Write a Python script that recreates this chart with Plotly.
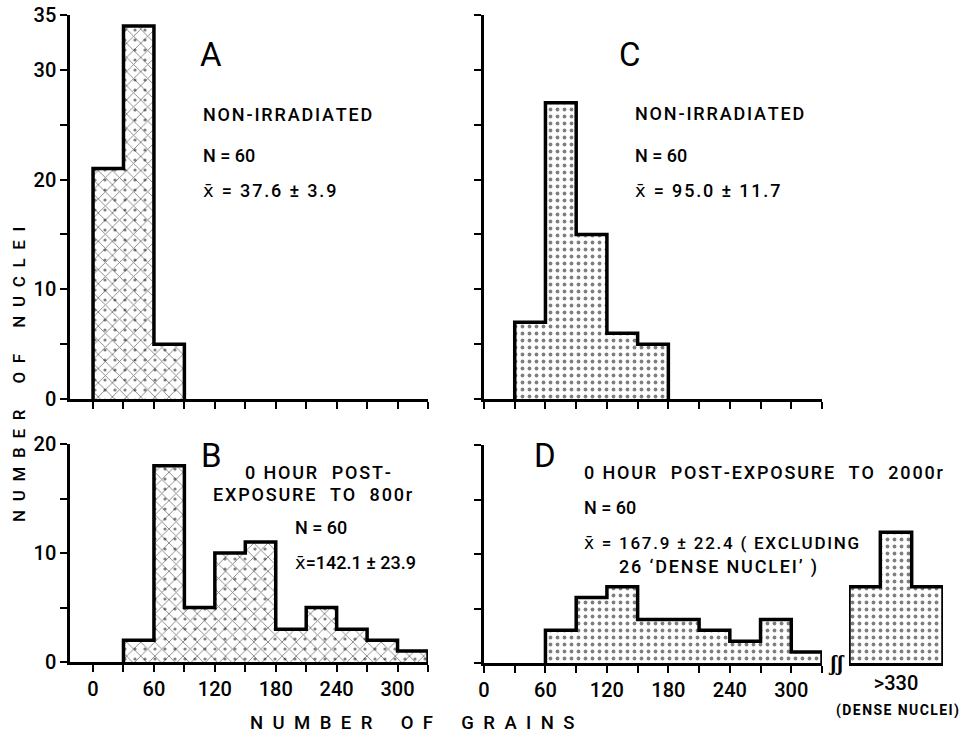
import plotly.graph_objects as go

# ---------------- data ----------------
bin_width = 30
a_edges = [0, 30, 60]
a_counts = [21, 34, 5]
b_edges = [30, 60, 90, 120, 150, 180, 210, 240, 270, 300]
b_counts = [2, 18, 5, 10, 11, 3, 5, 3, 2, 1]
c_edges = [30, 60, 90, 120, 150]
c_counts = [7, 27, 15, 6, 5]
d_edges = [60, 90, 120, 150, 180, 210, 240, 270, 300]
d_counts = [3, 6, 7, 4, 4, 3, 2, 4, 1]
dense_edges = [0, 1, 2]
dense_counts = [7, 12, 7]

x_ticks = list(range(0, 331, 30))
x_ticklabels = [str(v) if v % 60 == 0 and v <= 300 else "" for v in x_ticks]
y_top_ticks = list(range(0, 36, 5))
y_top_labels = ["0", "", "10", "", "20", "", "30", "35"]
y_bot_ticks = list(range(0, 21, 5))
y_bot_labels = ["0", "", "10", "", "20"]

W, H = 966, 735
FONT = "Roboto"
WEIGHT = 500


def px_x(p):
    return p / W


def px_y(p):
    return 1 - p / H


def outline(edges, counts, w):
    xs, ys = [edges[0]], [0]
    for e, c in zip(edges, counts):
        xs += [e, e + w]
        ys += [c, c]
    xs.append(edges[-1] + w)
    ys.append(0)
    return xs, ys


fig = go.Figure()


def add_hist(edges, counts, w, xa, ya, crosshatch):
    centers = [e + w / 2 for e in edges]
    if crosshatch:
        fig.add_trace(go.Bar(x=centers, y=counts, width=w, xaxis=xa, yaxis=ya,
                             marker=dict(color="white", line=dict(width=0),
                                         pattern=dict(shape="x", size=10, solidity=0.17,
                                                      fgcolor="black", bgcolor="white")),
                             hoverinfo="skip", showlegend=False))
        fig.add_trace(go.Bar(x=centers, y=counts, width=w, xaxis=xa, yaxis=ya,
                             marker=dict(color="rgba(0,0,0,0)", line=dict(width=0),
                                         pattern=dict(shape=".", size=10, solidity=0.08,
                                                      fgcolor="black", bgcolor="rgba(0,0,0,0)")),
                             hoverinfo="skip", showlegend=False))
    else:
        fig.add_trace(go.Bar(x=centers, y=counts, width=w, xaxis=xa, yaxis=ya,
                             marker=dict(color="white", line=dict(width=0),
                                         pattern=dict(shape=".", size=7, solidity=0.24,
                                                      fgcolor="black", bgcolor="white")),
                             hoverinfo="skip", showlegend=False))
    xs, ys = outline(edges, counts, w)
    fig.add_trace(go.Scatter(x=xs, y=ys, mode="lines", xaxis=xa, yaxis=ya,
                             line=dict(color="black", width=3.5),
                             hoverinfo="skip", showlegend=False))


add_hist(a_edges, a_counts, bin_width, "x", "y", True)
add_hist(b_edges, b_counts, bin_width, "x2", "y2", True)
add_hist(c_edges, c_counts, bin_width, "x3", "y3", False)
add_hist(d_edges, d_counts, bin_width, "x4", "y4", False)
add_hist(dense_edges, dense_counts, 1, "x5", "y4", False)

tickfont = dict(family=FONT, size=20, color="black", weight=WEIGHT)
common_x = dict(showgrid=False, zeroline=False, showline=True, linecolor="black",
                linewidth=3, ticks="outside", ticklen=7, tickwidth=2, tickcolor="black",
                tickvals=x_ticks, tickfont=tickfont, fixedrange=True, automargin=False)
common_y = dict(showgrid=False, zeroline=False, showline=True, linecolor="black",
                linewidth=2.5, ticks="outside", ticklen=7, tickwidth=2, tickcolor="black",
                tickfont=tickfont, fixedrange=True, automargin=False)

left_dom = [px_x(70), px_x(428)]
right_dom = [px_x(484), px_x(822)]
top_dom = [px_y(399), px_y(15)]
bl_dom = [px_y(662), px_y(444)]
br_dom = [px_y(663), px_y(445)]
left_range = [-22.7, 330]

fig.update_layout(
    width=W, height=H, margin=dict(l=0, r=0, t=0, b=0, pad=0, autoexpand=False),
    paper_bgcolor="white", plot_bgcolor="rgba(0,0,0,0)",
    barmode="overlay", bargap=0,
    font=dict(family=FONT, color="black"),
    xaxis=dict(common_x, domain=left_dom, anchor="y", range=left_range, showticklabels=False),
    yaxis=dict(common_y, domain=top_dom, anchor="x", range=[0, 35],
               tickvals=y_top_ticks, ticktext=y_top_labels),
    xaxis2=dict(common_x, domain=left_dom, anchor="y2", range=left_range,
                ticktext=x_ticklabels),
    yaxis2=dict(common_y, domain=bl_dom, anchor="x2", range=[0, 20],
                tickvals=y_bot_ticks, ticktext=y_bot_labels),
    xaxis3=dict(common_x, domain=right_dom, anchor="y3", range=[0, 330], showticklabels=False),
    yaxis3=dict(common_y, domain=top_dom, anchor="x3", range=[0, 35],
                tickvals=y_top_ticks, showticklabels=False),
    xaxis4=dict(common_x, domain=right_dom, anchor="y4", range=[0, 330],
                ticktext=x_ticklabels),
    yaxis4=dict(common_y, domain=br_dom, anchor="x4", range=[0, 20],
                tickvals=y_bot_ticks, showticklabels=False),
    xaxis5=dict(showgrid=False, zeroline=False, showline=True, linecolor="black",
                linewidth=3, ticks="", domain=[px_x(849), px_x(943)], anchor="y4",
                range=[0, 3], tickvals=[1.5], ticktext=[">330"], tickfont=tickfont,
                fixedrange=True, automargin=False),
)

ann = []


def txt(text, x, y, size=18, xanchor="left", weight=WEIGHT, textangle=0):
    ann.append(dict(text=text,
                    x=px_x(x), y=px_y(y), xref="paper", yref="paper",
                    xanchor=xanchor, yanchor="middle", showarrow=False,
                    textangle=textangle,
                    font=dict(family=FONT, size=size, color="black", weight=weight)))


hs = "\u200a"


def ls(s):
    # light letter spacing
    return hs.join(list(s))


XBAR = '<span style="font-family:DejaVu Sans">x\u0304</span>'
# Panel A
txt("A", 198, 55, size=33, weight=400)
txt(ls("NON-IRRADIATED"), 201, 115)
txt("N = 60", 201, 155)
txt(XBAR + hs + ls(" = 37.6 ± 3.9"), 201, 190)
# Panel B
txt("B", 199, 455, size=33, weight=400)
txt(ls("0 HOUR  POST-"), 318, 472, xanchor="center")
txt(ls("EXPOSURE  TO  800r"), 313, 494, xanchor="center")
txt("N = 60", 293, 527)
txt(XBAR + "=142.1 ± 23.9", 293, 562)
# Panel C
txt("C", 617, 55, size=33, weight=400)
txt(ls("NON-IRRADIATED"), 633, 113)
txt("N = 60", 633, 155)
txt(XBAR + hs + ls(" = 95.0 ± 11.7"), 633, 190)
# Panel D
txt("D", 532, 455, size=33, weight=400)
txt(ls("0 HOUR  POST-EXPOSURE  TO  2000r"), 582, 472)
txt("N = 60", 582, 507)
txt(XBAR + hs + ls(" = 167.9 ± 22.4 ( EXCLUDING"), 582, 543, size=17)
txt(ls("26 \u2018DENSE NUCLEI\u2019 )"), 617, 567)
txt(ls("(DENSE NUCLEI)"), 897, 710, size=14, xanchor="center", weight=700)
# axis break
txt("\u0283\u0283", 836, 662, size=22, xanchor="center", weight=700)

# axis titles with letter spacing
sp = "\u2002"


def spaced(words, gap=3):
    return (sp * gap).join(sp.join(list(w)) for w in words)


txt(spaced(["NUMBER", "OF", "GRAINS"]), 412, 723, size=18.5, xanchor="center")
txt(spaced(["NUMBER", "OF", "NUCLEI"]), 19, 375, size=17, xanchor="center", textangle=-90)

fig.update_layout(annotations=ann)
fig.write_html("out.html", config={"displayModeBar": False},
               post_script="document.body.style.margin='0px';")
